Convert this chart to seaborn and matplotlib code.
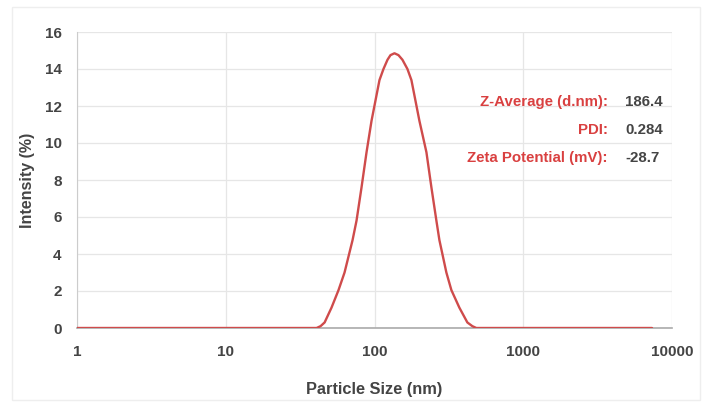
import matplotlib
matplotlib.use("Agg")
import matplotlib.pyplot as plt
import seaborn as sns
import pandas as pd
from matplotlib.patches import Rectangle

# Particle size (nm) and intensity (%)
size_nm = [1, 40.8, 43.4, 46.2, 51.4, 57.3, 62.9, 71.2, 75.7, 81.8, 88.4, 95.5,
           108.0, 114.9, 122.3, 128.1, 136.2, 144.9, 154.1, 166.5, 177.1, 200.4,
           223.4, 241.3, 260.7, 273.1, 304.2, 328.7, 372.0, 421.0, 454.7, 483.7, 7340]
intensity = [0, 0, 0.1, 0.3, 1.1, 2.05, 3.0, 4.75, 5.8, 7.6, 9.5, 11.2,
             13.4, 14.0, 14.5, 14.75, 14.85, 14.75, 14.5, 14.0, 13.4, 11.2,
             9.5, 7.6, 5.8, 4.75, 3.0, 2.05, 1.1, 0.3, 0.1, 0, 0]

x_ticks = [1, 10, 100, 1000, 10000]
x_tick_labels = ["1", "10", "100", "1000", "10000"]
y_ticks = [0, 2, 4, 6, 8, 10, 12, 14, 16]

info_labels = ["Z-Average (d.nm):", "PDI:", "Zeta Potential (mV):"]
info_values = ["186.4", "0.284", "-28.7"]

df = pd.DataFrame({"size": size_nm, "intensity": intensity})

sns.set_style("whitegrid")
plt.rcParams["font.family"] = ["Liberation Sans", "DejaVu Sans"]

fig = plt.figure(figsize=(7.03, 4.07), dpi=100)
ax = fig.add_axes([77 / 703, 79 / 407, 595 / 703, 296 / 407])

# faint image frame
fig.patches.append(Rectangle((12 / 703, 7 / 407), 688 / 703, 393 / 407,
                             transform=fig.transFigure, fill=False,
                             edgecolor="#eeeeee", lw=1.0))

sns.lineplot(data=df, x="size", y="intensity", ax=ax, color="#cf4b4b",
             linewidth=1.7, estimator=None, sort=False, zorder=5,
             solid_joinstyle="round")

ax.set_xscale("log")
ax.set_xlim(1, 10000)
ax.set_ylim(0, 16)
ax.set_xticks(x_ticks)
ax.set_xticklabels(x_tick_labels)
ax.set_yticks(y_ticks)
ax.minorticks_off()

ax.grid(True, color="#e6e6e6", linewidth=0.9)
for s in ["top", "right"]:
    ax.spines[s].set_visible(False)
ax.spines["left"].set_color("#cccccc")
ax.spines["bottom"].set_color("#aaaaaa")
ax.spines["bottom"].set_linewidth(1.2)

ax.tick_params(axis="both", length=0, labelsize=11, labelcolor="#444444")
ax.tick_params(axis="x", pad=12)
ax.tick_params(axis="y", pad=11)
for t in ax.get_xticklabels() + ax.get_yticklabels():
    t.set_fontweight("bold")

ax.set_xlabel("Particle Size (nm)", fontsize=11.8, fontweight="bold",
              color="#444444", labelpad=17)
ax.set_ylabel("Intensity (%)", fontsize=11.5, fontweight="bold",
              color="#444444", labelpad=7)

ys = [0.764, 0.669, 0.574]
for lab, val, yy in zip(info_labels, info_values, ys):
    ax.text(0.8924, yy, lab, transform=ax.transAxes, ha="right", va="center",
            fontsize=10.8, fontweight="bold", color="#d94040")
    ax.text(0.921, yy, val, transform=ax.transAxes, ha="left", va="center",
            fontsize=10.8, fontweight="bold", color="#444444")

fig.savefig("out.png", dpi=100)
